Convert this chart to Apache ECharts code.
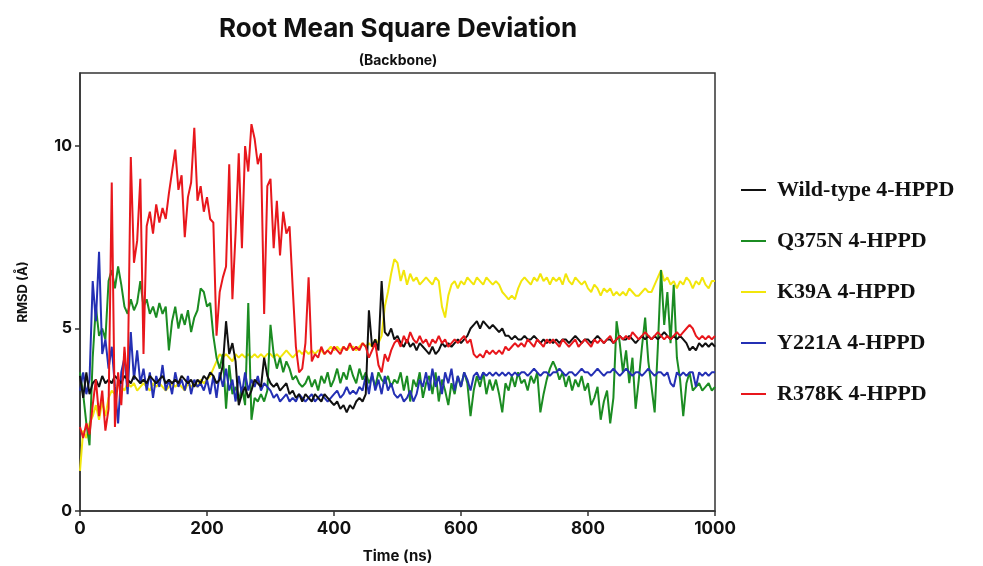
<!DOCTYPE html>
<html>
<head>
<meta charset="utf-8">
<title>RMSD</title>
<script src="https://cdn.jsdelivr.net/npm/echarts@6/dist/echarts.min.js"></script>
<style>
  html, body { margin: 0; padding: 0; background: #fff; }
  #main { width: 983px; height: 566px; }
</style>
</head>
<body>
<div id="main"></div>
<script>
// 时间步长 5 ns, 0 - 1000
var timeStep = 5;
var legendNames = ['Wild-type 4-HPPD', 'Q375N 4-HPPD', 'K39A 4-HPPD', 'Y221A 4-HPPD', 'R378K 4-HPPD'];
var xTicks = [0, 200, 400, 600, 800, 1000];
var yTicks = [0, 5, 10];

// Wild-type (黑)
var wildType = [
  3.7, 3.1, 3.8, 3.2, 3.5, 3.6, 3.4, 3.7, 3.5, 3.6,
  3.5, 3.7, 3.6, 3.5, 3.7, 3.6, 3.5, 3.7, 3.6, 3.5,
  3.6, 3.5, 3.7, 3.6, 3.5, 3.6, 3.7, 3.5, 3.6, 3.5,
  3.6, 3.5, 3.7, 3.6, 3.5, 3.6, 3.4, 3.6, 3.5, 3.7,
  3.6, 3.8, 3.7, 3.5, 3.6, 4.0, 5.2, 4.3, 4.6, 4.1,
  2.9, 3.2, 3.4, 3.1, 3.3, 3.6, 3.5, 3.4, 4.2, 3.7,
  3.5, 3.4, 3.5, 3.3, 3.4, 3.5, 3.2, 3.3, 3.1, 3.2,
  3.0, 3.2, 3.1, 3.0, 3.2, 3.1, 3.0, 3.2, 3.1, 3.0,
  2.9, 3.0, 2.8, 2.9, 2.7, 2.9, 2.8, 3.0, 3.1, 3.0,
  3.2, 5.5, 4.5, 4.7, 4.4, 6.3, 4.9, 4.8, 5.0, 4.7,
  4.8, 4.6, 4.5, 4.7, 4.5, 4.6, 4.4, 4.6, 4.5, 4.4,
  4.3, 4.5, 4.3, 4.4, 4.6, 4.5, 4.6, 4.5, 4.6, 4.7,
  4.6, 4.7, 4.8, 5.0, 5.1, 5.2, 5.0, 5.2, 5.1, 5.0,
  5.1, 5.0, 4.9, 5.0, 4.8, 4.8, 4.7, 4.8, 4.7, 4.7,
  4.8, 4.7, 4.7, 4.8, 4.7, 4.6, 4.7, 4.6, 4.7, 4.6,
  4.7, 4.6, 4.7, 4.7, 4.6, 4.7, 4.8, 4.7, 4.6, 4.7,
  4.7, 4.6, 4.7, 4.8, 4.7, 4.6, 4.7, 4.7, 4.6, 4.7,
  4.8, 4.7, 4.7, 4.8, 4.7, 4.6, 4.7, 4.8, 4.7, 4.8,
  4.7, 4.8, 4.7, 4.8, 4.9, 4.8, 4.7, 4.8, 4.7, 4.8,
  4.7, 4.6, 4.4, 4.5, 4.4, 4.6, 4.5, 4.6, 4.5, 4.6,
  4.5
];

// Q375N (绿)
var q375n = [
  3.8, 3.2, 2.4, 1.8, 4.2, 5.6, 4.8, 5.0, 4.7, 6.3,
  6.6, 6.1, 6.7, 6.2, 5.6, 5.4, 5.8, 5.5, 5.7, 6.3,
  5.6, 5.8, 5.4, 5.6, 5.3, 5.7, 5.4, 5.6, 4.4, 5.2,
  5.6, 5.0, 5.4, 5.1, 5.5, 4.9, 5.3, 5.5, 6.1, 6.0,
  5.6, 5.7, 4.8, 4.2, 3.9, 4.3, 2.8, 4.0, 3.2, 3.4,
  3.0, 3.4, 2.9, 5.7, 2.5, 3.1, 3.0, 3.2, 3.0, 3.3,
  5.1, 4.3, 3.9, 4.2, 3.8, 4.1, 3.9, 3.6, 3.7, 3.5,
  3.4, 3.5, 3.7, 3.4, 3.6, 3.3, 3.7, 3.5, 3.8, 3.4,
  3.6, 3.9, 3.5, 3.8, 3.6, 4.0, 3.7, 3.5, 3.9, 3.6,
  3.8, 3.5, 3.7, 3.4, 3.8, 3.6, 3.5, 3.7, 3.4, 3.6,
  3.5, 3.8, 3.3, 3.7, 3.0, 3.6, 3.4, 3.8, 3.1, 3.5,
  3.7, 3.2, 3.8, 3.0, 3.6, 3.3, 2.9, 3.5, 3.2, 3.7,
  3.4, 3.8, 3.5, 2.6, 3.3, 3.7, 3.4, 3.8, 3.2, 3.6,
  3.3, 3.6, 3.2, 2.7, 3.5, 3.3, 3.7, 3.4, 3.8, 3.5,
  3.6, 3.3, 3.7, 3.5, 3.8, 2.7, 3.2, 3.6, 3.9, 4.1,
  3.9, 3.6, 3.8, 3.4, 3.7, 3.3, 3.6, 3.4, 3.7, 3.3,
  3.5, 2.9, 3.1, 3.4, 2.5, 3.0, 3.3, 2.4, 3.1, 5.2,
  4.6, 3.8, 4.4, 3.5, 4.2, 2.8, 3.6, 4.5, 5.3, 4.1,
  3.4, 2.7, 4.5, 6.6, 5.1, 6.0, 4.6, 6.2, 4.2, 3.6,
  2.6, 3.5, 3.8, 3.3, 3.4, 3.5, 3.3, 3.4, 3.5, 3.3,
  3.4
];

// K39A (黄)
var k39a = [
  1.1, 2.2, 2.0, 2.4, 2.6, 2.9, 2.5, 3.0, 2.6, 3.1,
  3.3, 3.2, 3.5, 3.4, 3.3, 3.5, 3.4, 3.5, 3.3, 3.4,
  3.5, 3.4, 3.3, 3.5, 3.4, 3.5, 3.4, 3.3, 3.4, 3.5,
  3.4, 3.5, 3.4, 3.3, 3.5, 3.4, 3.5, 3.4, 3.6, 3.5,
  3.6, 3.7, 3.9, 4.1, 4.3, 4.2, 4.3, 4.2, 4.1, 4.3,
  4.2, 4.3, 4.2, 4.3, 4.2, 4.3, 4.2, 4.3, 4.2, 4.3,
  4.3, 4.2, 4.3, 4.2, 4.3, 4.4, 4.3, 4.2, 4.3, 4.4,
  4.3, 4.4, 4.3, 4.4, 4.3, 4.4, 4.4, 4.3, 4.4, 4.5,
  4.4, 4.5, 4.4, 4.5, 4.4, 4.5, 4.5, 4.4, 4.5, 4.6,
  4.5, 4.6, 4.5, 4.7, 4.6, 4.8, 5.6, 6.0, 6.5, 6.9,
  6.8, 6.3, 6.6, 6.2, 6.5, 6.3, 6.4, 6.2, 6.3, 6.4,
  6.3, 6.2, 6.4, 6.3, 5.6, 5.3, 5.9, 6.2, 6.3, 6.1,
  6.3, 6.2, 6.4, 6.3, 6.2, 6.4, 6.3, 6.2, 6.4, 6.3,
  6.2, 6.3, 6.2, 6.0, 5.9, 5.8, 5.9, 5.8, 6.1, 6.3,
  6.4, 6.3, 6.2, 6.4, 6.3, 6.5, 6.3, 6.4, 6.2, 6.4,
  6.3, 6.4, 6.2, 6.5, 6.3, 6.2, 6.4, 6.3, 6.2, 6.3,
  6.1, 6.0, 6.2, 6.1, 5.9, 6.1, 6.0, 6.1, 5.9, 6.0,
  5.9, 6.0, 5.9, 6.1, 6.0, 5.9, 5.9, 6.0, 6.1, 6.0,
  6.0, 6.2, 6.4, 6.6, 6.3, 6.4, 6.2, 6.3, 6.1, 6.3,
  6.2, 6.4, 6.3, 6.1, 6.3, 6.2, 6.4, 6.2, 6.1, 6.3,
  6.3
];

// Y221A (蓝)
var y221a = [
  3.3, 3.8, 3.2, 3.6, 6.3, 5.2, 7.1, 4.3, 4.7, 3.9,
  4.5, 3.4, 2.4, 3.8, 4.2, 3.2, 4.9, 3.6, 4.4, 3.5,
  3.9, 3.3, 3.8, 3.1, 3.7, 3.4, 4.0, 3.3, 3.6, 3.2,
  3.8, 3.4, 3.6, 3.3, 3.7, 3.2, 3.6, 3.4, 3.5, 3.3,
  3.6, 3.2, 3.7, 3.1, 3.8, 3.4, 3.9, 3.3, 3.6, 3.0,
  3.7, 3.2, 3.8, 3.3, 3.6, 3.4, 3.7, 3.3, 3.5, 3.4,
  3.3, 3.1, 3.2, 3.0, 3.1, 3.2, 3.0, 3.1, 3.0, 3.2,
  3.1, 3.0, 3.1, 3.2, 3.0, 3.1, 3.2, 3.1, 3.0, 3.1,
  3.2, 3.3, 3.1, 3.2, 3.4, 3.2, 3.3, 3.2, 3.4, 3.3,
  3.7, 3.2, 3.8, 3.3, 3.6, 3.2, 3.7, 3.3, 3.5, 3.2,
  3.1, 3.2, 3.0, 3.1, 3.3, 3.0, 3.2, 3.6, 3.4, 3.8,
  3.3, 3.9, 3.4, 3.7, 3.2, 3.8, 3.5, 3.9, 3.3, 3.7,
  3.4, 3.8, 3.6, 3.3, 3.7, 3.8, 3.6, 3.8, 3.7, 3.8,
  3.7, 3.8, 3.7, 3.8, 3.7, 3.8, 3.7, 3.8, 3.7, 3.8,
  3.8, 3.7, 3.8, 3.9, 3.8, 3.7, 3.8, 3.8, 3.7, 3.8,
  3.8, 3.9, 3.8, 3.7, 3.8, 3.8, 3.7, 3.8, 3.9, 3.8,
  3.8, 3.7, 3.8, 3.9, 3.8, 3.7, 3.8, 3.8, 3.9, 3.8,
  3.7, 3.8, 3.9, 3.8, 3.7, 3.8, 3.8, 3.7, 3.8, 3.9,
  3.8, 3.7, 3.8, 3.8, 3.7, 3.8, 3.5, 3.4, 3.8, 3.7,
  3.8, 3.7, 3.8, 3.8, 3.4, 3.8, 3.7, 3.8, 3.7, 3.8,
  3.8
];

// R378K (红)
var r378k = [
  2.3, 2.0, 2.4, 2.1, 2.9, 3.6, 2.6, 3.3, 2.2, 2.8,
  9.0, 2.3, 3.8, 2.9, 4.5, 3.4, 9.7, 6.8, 7.4, 9.1,
  4.3, 7.8, 8.2, 7.6, 8.4, 7.9, 8.3, 8.0, 8.7, 9.3,
  9.9, 8.8, 9.2, 7.5, 8.6, 9.0, 10.5, 8.5, 8.9, 8.2,
  8.6, 8.0, 7.9, 4.8, 6.0, 6.4, 6.7, 9.5, 5.8, 7.6,
  9.8, 7.2, 10.0, 9.3, 10.6, 10.2, 9.5, 9.8, 5.4, 8.9,
  9.1, 7.2, 8.5, 7.0, 8.2, 7.6, 7.8, 6.1, 4.5, 3.8,
  3.9, 4.6, 6.4, 4.1, 4.3, 4.2, 4.5, 4.3, 4.4, 4.3,
  4.5, 4.4, 4.3, 4.5, 4.4, 4.6, 4.4, 4.5, 4.4, 4.6,
  4.5, 4.2, 4.4, 4.6, 4.0, 3.8, 4.3, 4.1, 4.4, 4.6,
  4.7, 4.5, 4.8, 4.6, 4.9, 4.7, 4.6, 4.8, 4.6, 4.7,
  4.5, 4.7, 4.6, 4.8, 4.6, 4.7, 4.5, 4.6, 4.7, 4.6,
  4.7, 4.8, 4.6, 4.7, 4.3, 4.2, 4.3, 4.2, 4.4, 4.3,
  4.4, 4.3, 4.4, 4.3, 4.5, 4.4, 4.5, 4.6, 4.5, 4.6,
  4.5, 4.7, 4.6, 4.5, 4.7, 4.6, 4.5, 4.7, 4.6, 4.7,
  4.6, 4.5, 4.7, 4.6, 4.5, 4.6, 4.7, 4.5, 4.6, 4.7,
  4.6, 4.5, 4.7, 4.6, 4.7, 4.6, 4.7, 4.8, 4.6, 4.7,
  4.8, 4.7, 4.8, 4.7, 4.9, 4.8, 4.7, 4.8, 4.9, 4.8,
  4.7, 4.8, 4.9, 4.8, 4.7, 4.8, 4.7, 4.8, 4.9, 4.8,
  4.9, 5.0, 5.1, 5.0, 4.8, 4.7, 4.8, 4.7, 4.8, 4.7,
  4.8
];

var seriesValues = [wildType, q375n, k39a, y221a, r378k];
var colorArray = ['#111111', '#1b8c22', '#f2e60c', '#2430b4', '#e8171c'];
var zOrder = [4, 2, 1, 3, 5]; //绘制顺序

function toPairs(arr) {
    var out = [];
    for (var i = 0; i < arr.length; i++) {
        out.push([i * timeStep, arr[i]]);
    }
    return out;
}

var lineData = [];
for (var i = 0; i < seriesValues.length; i++) {
    lineData.push({
        name: legendNames[i],
        type: 'line',
        showSymbol: false,
        symbol: 'none',
        z: zOrder[i],
        lineStyle: { width: 2, color: colorArray[i] },
        itemStyle: { color: colorArray[i] },
        data: toPairs(seriesValues[i])
    });
}

var sansFont = 'Inter, "Liberation Sans", Arial, sans-serif';

var option = {
    backgroundColor: '#fff',
    animation: false,
    color: colorArray,
    title: [
        {
            text: 'Root Mean Square Deviation',
            left: 393, top: 11, textAlign: 'center',
            textStyle: { fontFamily: sansFont, fontWeight: 'bold', fontSize: 26, color: '#111' }
        },
        {
            text: '(Backbone)',
            left: 393, top: 49, textAlign: 'center',
            textStyle: { fontFamily: sansFont, fontWeight: 'bold', fontSize: 14, color: '#111' }
        }
    ],
    legend: {
        orient: 'vertical',
        left: 736, top: 174,
        itemWidth: 25, itemHeight: 2, itemGap: 29,
        icon: 'rect',
        data: legendNames,
        textStyle: {
            fontFamily: '"Liberation Serif", "Times New Roman", serif',
            fontWeight: 'bold', fontSize: 22, color: '#111',
            padding: [0, 0, 0, 6]
        }
    },
    grid: {
        left: 80, right: 268, top: 73, bottom: 55,
        outerBoundsMode: 'none',
        show: true, borderColor: '#333', borderWidth: 1.5, backgroundColor: 'transparent'
    },
    xAxis: {
        type: 'value',
        min: 0, max: 1000, interval: 200,
        name: 'Time (ns)',
        nameLocation: 'middle', nameGap: 38,
        nameTextStyle: { fontFamily: sansFont, fontWeight: 'bold', fontSize: 15, color: '#111' },
        axisLine: { show: true, lineStyle: { color: '#333', width: 1.5 } },
        axisTick: { show: true, length: 5, customValues: xTicks, lineStyle: { color: '#333', width: 1.5 } },
        axisLabel: {
            customValues: xTicks,
            formatter: function (v) { return String(v); },
            fontFamily: sansFont, fontWeight: 'bold', fontSize: 17, color: '#111', margin: 9
        },
        splitLine: { show: false }
    },
    yAxis: {
        type: 'value',
        min: 0, max: 12, interval: 5,
        name: 'RMSD (Å)',
        nameLocation: 'middle', nameGap: 50, nameRotate: 90,
        nameTextStyle: { fontFamily: sansFont, fontWeight: 'bold', fontSize: 13, color: '#111' },
        axisLine: { show: true, lineStyle: { color: '#333', width: 1.5 } },
        axisTick: { show: true, length: 5, customValues: yTicks, lineStyle: { color: '#333', width: 1.5 } },
        axisLabel: { customValues: yTicks, fontFamily: sansFont, fontWeight: 'bold', fontSize: 16, color: '#111', margin: 8 },
        splitLine: { show: false }
    },
    series: lineData
};

var myChart = echarts.init(document.getElementById('main'));
myChart.setOption(option);
</script>
</body>
</html>
